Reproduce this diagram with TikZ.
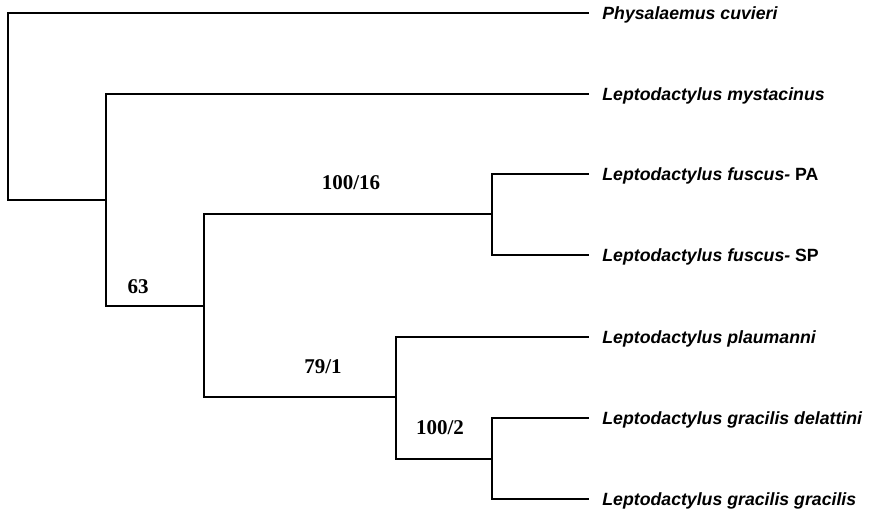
\documentclass[tikz,border=0pt]{standalone}
\usepackage{fontspec}
\newfontfamily\taxonfont{Liberation Sans}
\newfontfamily\supportfont{Liberation Serif}
\usetikzlibrary{positioning}

\begin{document}
\begin{tikzpicture}[
    x=0.5pt, y=-0.5pt,
    branch/.style={line width=1.45pt, line cap=rect},
    taxon/.style={
        anchor=west,
        inner xsep=7pt,
        inner ysep=0pt,
        yshift=-1pt,
        font=\taxonfont\bfseries\itshape\fontsize{8.85}{10}\selectfont
    },
    support/.style={
        inner sep=0pt,
        font=\supportfont\bfseries\fontsize{10.5}{12}\selectfont
    }
]
    \useasboundingbox (0,0) rectangle (870,518);

    % tip ends
    \coordinate (tphy) at (588, 13);
    \coordinate (tmys) at (588, 94);
    \coordinate (tfpa) at (588,174);
    \coordinate (tfsp) at (588,255);
    \coordinate (tpla) at (588,337);
    \coordinate (tgde) at (588,418);
    \coordinate (tggr) at (588,499);

    % tips
    \node[taxon] (phy) at (tphy) {Physalaemus cuvieri};
    \node[taxon] (mys) at (tmys) {Leptodactylus mystacinus};
    \node[taxon] (fpa) at (tfpa) {Leptodactylus fuscus-\upshape{} PA};
    \node[taxon] (fsp) at (tfsp) {Leptodactylus fuscus-\upshape{} SP};
    \node[taxon] (pla) at (tpla) {Leptodactylus plaumanni};
    \node[taxon] (gde) at (tgde) {Leptodactylus gracilis delattini};
    \node[taxon] (ggr) at (tggr) {Leptodactylus gracilis gracilis};

    % internal nodes
    \coordinate (n0) at (8,200);
    \coordinate (nA) at (106,200);
    \coordinate (nB) at (204,306);
    \coordinate (nF) at (492,214);
    \coordinate (nC) at (396,397);
    \coordinate (nD) at (492,459);

    % branches
    \draw[branch] (tphy) -| (n0) |- (nA);
    \draw[branch] (tmys) -| (nA) |- (nB);
    \draw[branch] (nF) -| (nB) |- (nC);
    \draw[branch] (tfpa) -| (nF) |- (tfsp);
    \draw[branch] (tpla) -| (nC) |- (nD);
    \draw[branch] (tgde) -| (nD) |- (tggr);

    % support values
    \node[support] (sB) at (138,287) {63};
    \node[support] (sF) at (351,183) {100/16};
    \node[support] (sC) at (323,367) {79/1};
    \node[support] (sD) at (440,428) {100/2};
\end{tikzpicture}
\end{document}
